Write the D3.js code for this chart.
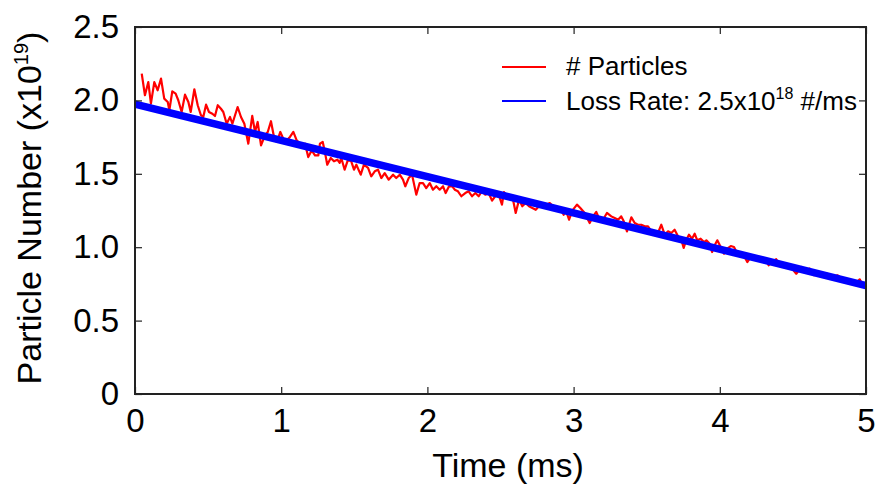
<!DOCTYPE html>
<html>
<head>
<meta charset="utf-8">
<script src="https://cdn.jsdelivr.net/npm/d3@7"></script>
<style>
  html, body { margin: 0; padding: 0; background: #fff; }
  svg { display: block; }
  text { font-family: "Liberation Sans", Arial, Helvetica, sans-serif; fill: #000; }
</style>
</head>
<body>
<svg id="chart" width="881" height="485"></svg>
<script>
// ---- data (time in ms, particle number in units of 1e19) ----
const timeMs = [0.046,0.068,0.091,0.109,0.132,0.155,0.178,0.200,0.224,0.235,0.255,0.278,0.296,0.319,0.342,0.365,0.381,0.406,0.429,0.451,0.467,0.486,0.506,0.529,0.547,0.566,0.588,0.604,0.627,0.650,0.666,0.702,0.725,0.748,0.775,0.802,0.821,0.839,0.862,0.889,0.908,0.930,0.953,0.971,0.994,1.014,1.038,1.060,1.083,1.106,1.140,1.163,1.185,1.209,1.231,1.254,1.265,1.284,1.298,1.315,1.339,1.361,1.384,1.400,1.411,1.434,1.457,1.479,1.498,1.514,1.544,1.566,1.594,1.616,1.640,1.662,1.685,1.708,1.735,1.765,1.787,1.811,1.833,1.849,1.872,1.895,1.924,1.947,1.970,1.992,2.016,2.038,2.061,2.084,2.107,2.125,2.148,2.170,2.187,2.209,2.232,2.259,2.282,2.305,2.328,2.351,2.373,2.396,2.419,2.442,2.464,2.488,2.510,2.524,2.551,2.581,2.604,2.627,2.649,2.672,2.695,2.718,2.741,2.763,2.791,2.813,2.837,2.859,2.882,2.905,2.932,2.946,2.969,2.991,3.023,3.046,3.076,3.110,3.133,3.155,3.178,3.201,3.228,3.258,3.281,3.304,3.326,3.343,3.365,3.395,3.418,3.440,3.463,3.486,3.509,3.532,3.555,3.577,3.600,3.623,3.646,3.668,3.691,3.714,3.737,3.753,3.771,3.789,3.810,3.828,3.846,3.869,3.892,3.908,3.931,3.947,3.965,3.983,4.006,4.029,4.051,4.075,4.097,4.120,4.147,4.170,4.188,4.211,4.239,4.261,4.284,4.311,4.334,4.357,4.386,4.410,4.444,4.466,4.494,4.523,4.557,4.585,4.615,4.644,4.676,4.706,4.735,4.767,4.804,4.836,4.872,4.904,4.934,4.957,4.973,4.991];
const particles = [2.182,2.035,2.125,1.978,2.125,2.069,2.148,2.012,1.989,1.933,2.062,2.046,2.001,1.921,2.039,1.989,1.921,2.076,1.967,1.899,1.887,1.971,1.921,1.909,1.894,1.967,1.943,1.921,1.841,1.887,1.841,1.955,1.887,1.841,1.705,1.894,1.785,1.853,1.694,1.762,1.785,1.858,1.739,1.717,1.785,1.739,1.728,1.751,1.785,1.728,1.694,1.705,1.614,1.660,1.626,1.626,1.705,1.717,1.653,1.562,1.608,1.585,1.596,1.574,1.608,1.528,1.596,1.585,1.528,1.562,1.494,1.562,1.540,1.483,1.517,1.528,1.471,1.505,1.460,1.494,1.471,1.494,1.460,1.415,1.471,1.494,1.358,1.437,1.437,1.403,1.437,1.392,1.415,1.392,1.415,1.369,1.415,1.415,1.392,1.381,1.347,1.369,1.381,1.347,1.369,1.347,1.381,1.358,1.369,1.317,1.347,1.358,1.290,1.376,1.335,1.347,1.233,1.324,1.279,1.301,1.279,1.267,1.255,1.279,1.301,1.290,1.301,1.279,1.267,1.272,1.221,1.255,1.187,1.249,1.290,1.267,1.233,1.165,1.210,1.240,1.187,1.187,1.233,1.210,1.199,1.187,1.210,1.176,1.108,1.204,1.165,1.153,1.153,1.142,1.142,1.108,1.108,1.097,1.153,1.085,1.108,1.097,1.119,1.074,1.051,0.995,1.051,1.085,1.058,1.092,1.047,1.058,1.035,1.047,1.024,0.967,1.013,1.047,1.001,0.956,0.990,1.008,1.001,0.956,0.945,0.933,0.899,0.933,0.922,0.926,0.918,0.918,0.877,0.899,0.918,0.881,0.865,0.877,0.854,0.819,0.865,0.843,0.854,0.809,0.819,0.813,0.819,0.797,0.809,0.785,0.775,0.768,0.758,0.781,0.751,0.758];
const fitTime = [0, 5];
const fitValue = [1.975, 0.739];
const xTicks = [0, 1, 2, 3, 4, 5];
const yTicks = [0, 0.5, 1.0, 1.5, 2.0, 2.5];
const yTickLabels = ["0", "0.5", "1.0", "1.5", "2.0", "2.5"];
const legendLabels = ["# Particles", "Loss Rate: 2.5x10", "18", " #/ms"];

// ---- layout ----
const L = 135, R = 866, T = 27, B = 394;
const svg = d3.select("#chart");
const x = d3.scaleLinear().domain([0, 5]).range([L, R]);
const y = d3.scaleLinear().domain([0, 2.5]).range([B, T]);

svg.append("defs").append("clipPath").attr("id", "plotclip")
  .append("rect").attr("x", L).attr("y", T).attr("width", R - L).attr("height", B - T);

const plot = svg.append("g").attr("clip-path", "url(#plotclip)");

// red data line
const redData = timeMs.map((t, i) => [t, particles[i]]);
plot.append("path")
  .datum(redData)
  .attr("fill", "none")
  .attr("stroke", "#ff0000")
  .attr("stroke-width", 2.2)
  .attr("stroke-linejoin", "round")
  .attr("d", d3.line().x(d => x(d[0])).y(d => y(d[1])));

// blue fit line
const blueData = fitTime.map((t, i) => [t, fitValue[i]]);
plot.append("path")
  .datum(blueData)
  .attr("fill", "none")
  .attr("stroke", "#0000ff")
  .attr("stroke-width", 7.5)
  .attr("d", d3.line().x(d => x(d[0])).y(d => y(d[1])));

// axes with inward ticks on all sides
const tickLen = 7;
const axB = d3.axisBottom(x).tickValues(xTicks).tickSize(-tickLen).tickFormat(d => d).tickPadding(15);
const axT = d3.axisTop(x).tickValues(xTicks).tickSize(-tickLen).tickFormat("");
const axL = d3.axisLeft(y).tickValues(yTicks).tickSize(-tickLen).tickFormat((d, i) => yTickLabels[i]).tickPadding(16);
const axR = d3.axisRight(y).tickValues(yTicks).tickSize(-tickLen).tickFormat("");

function styleAxis(g) {
  g.select(".domain").remove();
  g.selectAll(".tick line").attr("stroke", "#222").attr("stroke-width", 1.2);
  g.selectAll(".tick text").attr("font-size", 33).attr("fill", "#000")
    .style("font-family", '"Liberation Sans", Arial, sans-serif');
}
svg.append("g").attr("transform", `translate(0,${B})`).call(axB).call(styleAxis);
svg.append("g").attr("transform", `translate(0,${T})`).call(axT).call(styleAxis);
svg.append("g").attr("transform", `translate(${L},0)`).call(axL).call(styleAxis);
svg.append("g").attr("transform", `translate(${R},0)`).call(axR).call(styleAxis);

// frame
svg.append("rect").attr("x", L).attr("y", T).attr("width", R - L).attr("height", B - T)
  .attr("fill", "none").attr("stroke", "#222").attr("stroke-width", 2);

// axis titles
svg.append("text").attr("x", 508).attr("y", 477).attr("text-anchor", "middle")
  .attr("font-size", 34).text("Time (ms)");

const yl = svg.append("text").attr("transform", "translate(41,208) rotate(-90)")
  .attr("text-anchor", "middle").attr("font-size", 34);
yl.append("tspan").text("Particle Number (x10");
yl.append("tspan").attr("font-size", 20).attr("dy", -13).text("19");
yl.append("tspan").attr("dy", 13).text(")");

// legend
const lg = svg.append("g");
lg.append("line").attr("x1", 502).attr("x2", 546).attr("y1", 67).attr("y2", 67)
  .attr("stroke", "#ff0000").attr("stroke-width", 2);
lg.append("text").attr("x", 566).attr("y", 75).attr("font-size", 26).text(legendLabels[0]);
lg.append("line").attr("x1", 502).attr("x2", 546).attr("y1", 101).attr("y2", 101)
  .attr("stroke", "#0000ff").attr("stroke-width", 2);
const t2 = lg.append("text").attr("x", 566).attr("y", 110).attr("font-size", 26);
t2.append("tspan").text(legendLabels[1]);
t2.append("tspan").attr("font-size", 16).attr("dy", -11).text(legendLabels[2]);
t2.append("tspan").attr("dy", 11).text(legendLabels[3]);
</script>
</body>
</html>
